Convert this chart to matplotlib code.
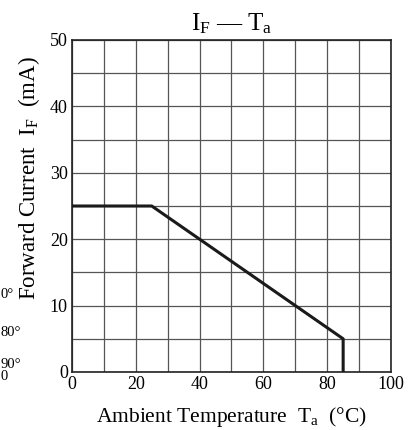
import matplotlib
matplotlib.use("Agg")
import matplotlib.pyplot as plt
from matplotlib.ticker import MultipleLocator

plt.rcParams['font.family'] = ['Liberation Serif', 'DejaVu Serif']
plt.rcParams['mathtext.fontset'] = 'custom'
plt.rcParams['mathtext.rm'] = 'Liberation Serif'
plt.rcParams['mathtext.it'] = 'Liberation Serif:italic'

#### Donnees de la courbe I_F - T_a
temp = [0, 25, 85, 85]
courant = [25, 25, 5, 0]

x_ticks = [0, 20, 40, 60, 80, 100]
y_ticks = [0, 10, 20, 30, 40, 50]

fig = plt.figure(figsize=(4.14, 4.30), dpi=100)
ax = fig.add_axes([72/414, 58/430, 319/414, 332/430])

ax.plot(temp, courant, color='#1a1a1a', lw=2.2, solid_capstyle='butt', zorder=3)

ax.set_xlim(0, 100)
ax.set_ylim(0, 50)
ax.xaxis.set_minor_locator(MultipleLocator(10))
ax.yaxis.set_minor_locator(MultipleLocator(5))
ax.set_xticks(x_ticks)
ax.set_yticks(y_ticks)
ax.grid(which='both', color='#555555', lw=0.9)
ax.tick_params(which='both', length=0, labelsize=13, pad=3)
for s in ax.spines.values():
    s.set_linewidth(1.2)
    s.set_color('#222222')

# labels places a la main (pixels du haut de l'image)
ax.set_xlabel(r"Ambient Temperature  T$_\mathrm{a}$  (°C)", fontsize=15.5)
ax.xaxis.label.set_va('center')
ax.xaxis.set_label_coords(0.5, -(417 - 372) / 332)
ax.set_ylabel(r"Forward Current  I$_\mathrm{F}$  (mA)", fontsize=16.5)
ax.yaxis.label.set_va('center')
ax.yaxis.set_label_coords((29 - 72) / 319, (372 - 178) / 332)
ax.set_title(r"I$_\mathrm{F}$ — T$_\mathrm{a}$", fontsize=18, pad=7)

# morceaux du graphe voisin (coupe a gauche)
fig.text(1/414, 1 - 294/430, "0°", fontsize=10.5, va='center', ha='left')
fig.text(1/414, 1 - 332/430, "80°", fontsize=10.5, va='center', ha='left')
fig.text(1/414, 1 - 364/430, "90°", fontsize=10.5, va='center', ha='left')
fig.text(1/414, 1 - 377/430, "0", fontsize=10.5, va='center', ha='left')

fig.savefig("out.png", dpi=100)
